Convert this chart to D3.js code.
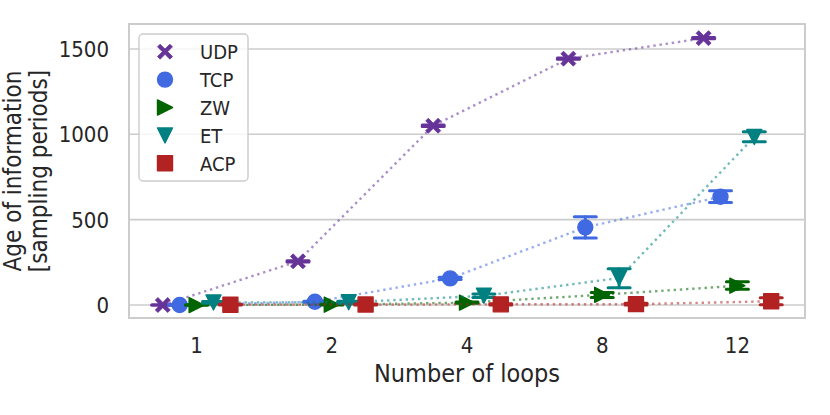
<!DOCTYPE html>
<html>
<head>
<meta charset="utf-8">
<script src="https://cdn.jsdelivr.net/npm/d3@7"></script>
<style>
  body { margin: 0; background: #fff; }
  text { font-family: "DejaVu Sans Condensed", "DejaVu Sans", sans-serif; fill: #262626; }
</style>
</head>
<body>
<div id="chart"></div>
<script>
// Data
const loops = ["1", "2", "4", "8", "12"];
const protocols = ["UDP", "TCP", "ZW", "ET", "ACP"];
const yTicks = [0, 500, 1000, 1500];

const udpMean = [0, 256, 1050, 1443, 1563];
const udpLow = [0, 252, 1046, 1439, 1559];
const udpHigh = [0, 260, 1054, 1447, 1567];

const tcpMean = [0, 19, 156, 455, 634];
const tcpLow = [0, 16, 150, 392, 600];
const tcpHigh = [0, 22, 162, 517, 670];

const zwMean = [0, 2, 14, 60, 113];
const zwLow = [0, 0, 10, 44, 92];
const zwHigh = [0, 4, 18, 74, 136];

const etMean = [15, 16, 54, 158, 984];
const etLow = [10, 10, 44, 101, 957];
const etHigh = [20, 22, 64, 213, 1015];

const acpMean = [2, 3, 4, 5, 22];
const acpLow = [0, 0, 0, 0, 2];
const acpHigh = [4, 6, 8, 10, 43];

const series = [
  { name: "UDP", mean: udpMean, low: udpLow, high: udpHigh },
  { name: "TCP", mean: tcpMean, low: tcpLow, high: tcpHigh },
  { name: "ZW", mean: zwMean, low: zwLow, high: zwHigh },
  { name: "ET", mean: etMean, low: etLow, high: etHigh },
  { name: "ACP", mean: acpMean, low: acpLow, high: acpHigh }
];

// Styles
const colors = d3.scaleOrdinal()
  .domain(protocols)
  .range(["#663399", "#4169e1", "#006400", "#008080", "#b22222"]);
const shapes = { UDP: "x", TCP: "o", ZW: ">", ET: "v", ACP: "s" };

const width = 830;
const height = 415;
const margin = { top: 24, right: 25, bottom: 97, left: 129 };

const svg = d3.select("#chart")
  .append("svg")
  .attr("width", width)
  .attr("height", height);

const x = d3.scalePoint()
  .domain(loops)
  .range([margin.left, width - margin.right])
  .padding(0.5);

// hue dodge inside each category
const dodge = d3.scalePoint()
  .domain(protocols)
  .range([-x.step() / 4, x.step() / 4]);

const y = d3.scaleLinear()
  .domain([-76, 1646])
  .range([height - margin.bottom, margin.top]);

// Marker path generator (size ~ 15px)
function markerPath(shape, s) {
  const h = s / 2;
  if (shape === "o") return d3.symbol(d3.symbolCircle, Math.PI * h * h)();
  if (shape === "s") return `M${-h},${-h}H${h}V${h}H${-h}Z`;
  if (shape === ">") return `M${h},0L${-h},${-h}L${-h},${h}Z`;
  if (shape === "v") return `M0,${h}L${-h},${-h}L${h},${-h}Z`;
  // filled X as in matplotlib, slightly slimmer arms
  const q = s / 4;
  const pts = [[-1.3, -2], [0, -0.7], [1.3, -2], [2, -1.3], [0.7, 0], [2, 1.3],
               [1.3, 2], [0, 0.7], [-1.3, 2], [-2, 1.3], [-0.7, 0], [-2, -1.3]];
  return "M" + pts.map(p => `${p[0] * q},${p[1] * q}`).join("L") + "Z";
}

// Grid lines
svg.append("g")
  .selectAll("line")
  .data(yTicks)
  .join("line")
  .attr("x1", margin.left)
  .attr("x2", width - margin.right)
  .attr("y1", d => y(d))
  .attr("y2", d => y(d))
  .attr("stroke", "#cccccc")
  .attr("stroke-width", 1.6);

// Frame
svg.append("rect")
  .attr("x", margin.left)
  .attr("y", margin.top)
  .attr("width", width - margin.left - margin.right)
  .attr("height", height - margin.top - margin.bottom)
  .attr("fill", "none")
  .attr("stroke", "#cccccc")
  .attr("stroke-width", 2);

// Y tick labels
svg.append("g")
  .selectAll("text")
  .data(yTicks)
  .join("text")
  .attr("x", margin.left - 20)
  .attr("y", d => y(d))
  .attr("dy", "0.36em")
  .attr("text-anchor", "end")
  .attr("font-size", 22)
  .text(d => d);

// X tick labels
svg.append("g")
  .selectAll("text")
  .data(loops)
  .join("text")
  .attr("x", d => x(d))
  .attr("y", 353)
  .attr("text-anchor", "middle")
  .attr("font-size", 22)
  .text(d => d);

// Axis titles
svg.append("text")
  .attr("x", x.range()[0] + (x.range()[1] - x.range()[0]) / 2)
  .attr("y", 382)
  .attr("text-anchor", "middle")
  .attr("font-size", 25)
  .text("Number of loops");

const yMid = (margin.top + height - margin.bottom) / 2;
const ylab = svg.append("text")
  .attr("transform", `translate(0, ${yMid}) rotate(-90)`)
  .attr("text-anchor", "middle")
  .attr("font-size", 24);
ylab.append("tspan").attr("x", 0).attr("y", 21).text("Age of information");
ylab.append("tspan").attr("x", 0).attr("y", 47).text("[sampling periods]");

// Point plot: dotted lines, error bars, markers
const line = d3.line()
  .x(d => d.x)
  .y(d => y(d.v));

series.forEach(s => {
  const color = colors(s.name);
  const pts = loops.map((c, i) => ({
    x: x(c) + dodge(s.name),
    v: s.mean[i], lo: s.low[i], hi: s.high[i]
  }));
  const g = svg.append("g");

  g.append("path")
    .datum(pts)
    .attr("d", line)
    .attr("fill", "none")
    .attr("stroke", color)
    .attr("stroke-opacity", 0.55)
    .attr("stroke-width", 2.4)
    .attr("stroke-dasharray", "2.4,3.8");

  const err = g.selectAll("g.err")
    .data(pts)
    .join("g")
    .attr("class", "err")
    .attr("stroke", color)
    .attr("stroke-width", 3)
    .attr("stroke-linecap", "round");
  err.append("line")
    .attr("x1", d => d.x).attr("x2", d => d.x)
    .attr("y1", d => y(d.lo)).attr("y2", d => y(d.hi));
  err.append("line")
    .attr("x1", d => d.x - 11).attr("x2", d => d.x + 11)
    .attr("y1", d => y(d.lo)).attr("y2", d => y(d.lo));
  err.append("line")
    .attr("x1", d => d.x - 11).attr("x2", d => d.x + 11)
    .attr("y1", d => y(d.hi)).attr("y2", d => y(d.hi));

  g.selectAll("path.mark")
    .data(pts)
    .join("path")
    .attr("class", "mark")
    .attr("d", markerPath(shapes[s.name], 15))
    .attr("transform", d => `translate(${d.x},${y(d.v)})`)
    .attr("fill", color)
    .attr("stroke", color)
    .attr("stroke-width", shapes[s.name] === "x" ? 0.8 : 1.4)
    .attr("stroke-linejoin", "round");
});

// Legend
const legend = svg.append("g")
  .attr("transform", "translate(139, 34)");

legend.append("rect")
  .attr("width", 109)
  .attr("height", 147)
  .attr("rx", 4)
  .attr("fill", "rgba(255,255,255,0.8)")
  .attr("stroke", "#cccccc")
  .attr("stroke-width", 1.4);

const rows = legend.selectAll("g.row")
  .data(protocols)
  .join("g")
  .attr("class", "row")
  .attr("transform", (d, i) => `translate(26, ${17.7 + i * 27.9})`);

rows.append("path")
  .attr("d", d => markerPath(shapes[d], 15))
  .attr("fill", d => colors(d))
  .attr("stroke", d => colors(d))
  .attr("stroke-width", d => shapes[d] === "x" ? 0.8 : 1.4)
  .attr("stroke-linejoin", "round");

rows.append("text")
  .attr("x", 35)
  .attr("dy", "0.36em")
  .attr("font-size", 20)
  .text(d => d);
</script>
</body>
</html>
